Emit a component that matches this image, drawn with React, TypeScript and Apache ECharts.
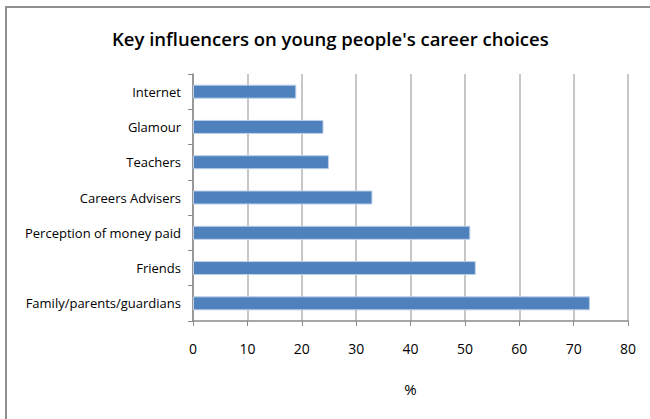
import React, { useEffect, useRef } from "react";
import * as echarts from "echarts";

const categories = [
  "Family/parents/guardians",
  "Friends",
  "Perception of money paid",
  "Careers Advisers",
  "Teachers",
  "Glamour",
  "Internet",
];
const values = [73, 52, 51, 33, 25, 24, 19];
const xTicks = { min: 0, max: 80, interval: 10 };

const FONT = "'Open Sans', 'Noto Sans', sans-serif";

export default function App() {
  const ref = useRef<HTMLDivElement>(null);
  useEffect(() => {
    document.body.style.margin = "0";
    if (!ref.current) return;
    const chart = echarts.init(ref.current, undefined, { renderer: "svg" });
    chart.setOption({
      animation: false,
      backgroundColor: "#ffffff",
      title: {
        text: "Key influencers on young people's career choices",
        left: 107,
        top: 24,
        textStyle: { fontFamily: FONT, fontSize: 18.5, fontWeight: 600, color: "#000" },
      },
      graphic: [
        {
          type: "rect",
          shape: { x: 6, y: 7, width: 700, height: 500 },
          style: { fill: "none", stroke: "#8f8f8f", lineWidth: 2 },
          silent: true,
        },
      ],
      grid: { left: 193, right: 22, top: 74, bottom: 98, containLabel: false },
      xAxis: {
        type: "value",
        min: xTicks.min,
        max: xTicks.max,
        interval: xTicks.interval,
        name: "%",
        nameLocation: "middle",
        nameGap: 60,
        nameTextStyle: { fontFamily: FONT, fontSize: 15, color: "#000" },
        axisLine: { show: true, lineStyle: { color: "#8a8a8a", width: 1.5 } },
        axisTick: { show: true, length: 5, lineStyle: { color: "#8a8a8a" } },
        axisLabel: { fontFamily: FONT, fontSize: 14, color: "#000", margin: 20 },
        splitLine: { show: true, lineStyle: { color: "#b4b4b4", width: 1.5 } },
      },
      yAxis: {
        type: "category",
        data: categories,
        axisLine: { show: true, lineStyle: { color: "#8a8a8a", width: 1.5 } },
        axisTick: { show: true, length: 5, lineStyle: { color: "#8a8a8a" } },
        axisLabel: { fontFamily: FONT, fontSize: 13, color: "#000", margin: 12 },
      },
      series: [
        {
          type: "bar",
          data: values,
          barWidth: 14,
          itemStyle: { color: "#4f81bd", borderColor: "#bcd0ea", borderWidth: 1 },
        },
      ],
    });
    return () => chart.dispose();
  }, []);
  return <div ref={ref} style={{ width: 650, height: 419 }} />;
}
